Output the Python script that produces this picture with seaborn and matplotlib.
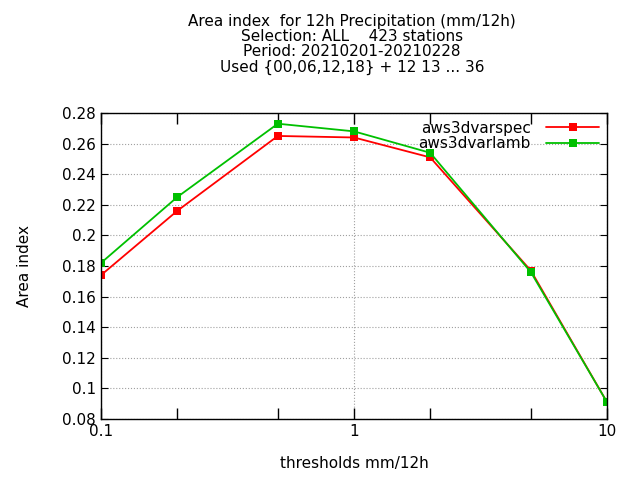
import matplotlib
matplotlib.use("Agg")
import matplotlib.pyplot as plt
import seaborn as sns
import pandas as pd
from matplotlib.ticker import FixedLocator, NullFormatter

thresholds = [0.1, 0.2, 0.5, 1, 2, 5, 10]
spec = [0.174, 0.216, 0.265, 0.264, 0.251, 0.177, 0.091]
lamb = [0.182, 0.225, 0.273, 0.268, 0.254, 0.176, 0.091]

sns.set_style("white")
plt.rcParams['font.family'] = ['DejaVu Sans']
plt.rcParams['text.color'] = 'black'
plt.rcParams['axes.labelcolor'] = 'black'
plt.rcParams['xtick.color'] = 'black'
plt.rcParams['ytick.color'] = 'black'
df = pd.DataFrame({"x": thresholds * 2, "y": spec + lamb,
                   "exp": ["aws3dvarspec"] * 7 + ["aws3dvarlamb"] * 7})

fig = plt.figure(figsize=(6.4, 4.8), dpi=100)
ax = fig.add_axes([101/640, 1-419/480, 506/640, 306/480])
sns.lineplot(data=df, x="x", y="y", hue="exp", palette=["#ff0000", "#00c000"],
             marker="s", markersize=6, markeredgewidth=0, linewidth=1.3, ax=ax)
ax.set_xscale("log")
ax.set_xlim(0.1, 10)
ax.set_ylim(0.08, 0.28)
ax.set_yticks([0.08 + 0.02*i for i in range(11)])
ax.set_yticklabels(["0.08","0.1","0.12","0.14","0.16","0.18","0.2","0.22","0.24","0.26","0.28"])
ax.set_xticks([0.1, 1, 10])
ax.set_xticklabels(["0.1", "1", "10"])
ax.xaxis.set_minor_locator(FixedLocator([0.2, 0.5, 2, 5]))
ax.xaxis.set_minor_formatter(NullFormatter())
ax.tick_params(axis="both", which="both", direction="in", top=True, right=True,
               bottom=True, left=True, labelsize=11)
ax.tick_params(axis="x", which="both", length=8, width=1)
ax.tick_params(axis="y", length=5)
ax.grid(True, which="major", linestyle=":", color="#a0a0a0", linewidth=0.8)
for s in ax.spines.values():
    s.set_color("black"); s.set_linewidth(1)
ax.set_xlabel("thresholds mm/12h", fontsize=11, labelpad=12)
ax.set_ylabel("Area index", fontsize=11, labelpad=22)
leg = ax.legend(loc="upper right", frameon=False, fontsize=11, markerfirst=False,
                handlelength=3.5, borderaxespad=0.1, labelspacing=0.05, handletextpad=1.0)
for t in leg.get_texts():
    t.set_ha("left")
fig.suptitle("Area index  for 12h Precipitation (mm/12h)\nSelection: ALL    423 stations\n"
             "Period: 20210201-20210228\nUsed {00,06,12,18} + 12 13 ... 36",
             x=0.55, y=0.97, fontsize=11, linespacing=1.0)
fig.savefig("out.png", dpi=100)
